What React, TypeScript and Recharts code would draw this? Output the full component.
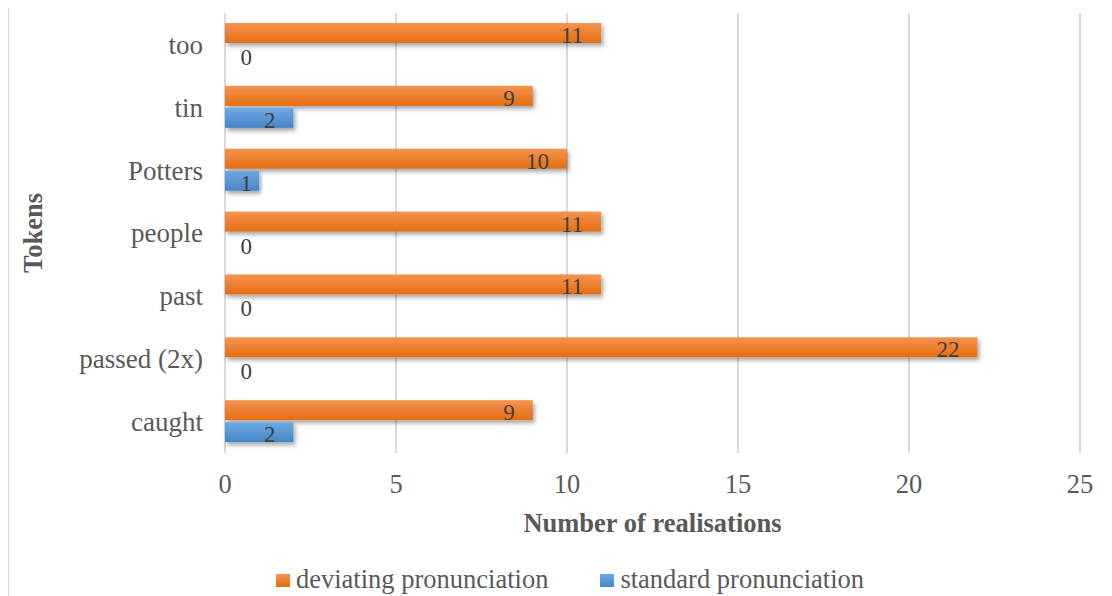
import React from 'react';
import {
  BarChart,
  Bar,
  XAxis,
  YAxis,
  CartesianGrid,
  LabelList,
} from 'recharts';

const tokens = ['too', 'tin', 'Potters', 'people', 'past', 'passed (2x)', 'caught'];
const deviating = [11, 9, 10, 11, 11, 22, 9];
const standard = [0, 2, 1, 0, 0, 0, 2];
const xTicks = [0, 5, 10, 15, 20, 25];

const seriesNames = {
  deviating: 'deviating pronunciation',
  standard: 'standard pronunciation',
};

const chartData = tokens.map((name, i) => ({
  name,
  deviating: deviating[i],
  standard: standard[i],
}));

const FONT = '"Liberation Serif", "Times New Roman", serif';
const TEXT_GRAY = '#595959';
const LABEL_GRAY = '#404040';
const GRID = '#d9d9d9';

const renderYTick = (props: any) => {
  const { y, payload } = props;
  return (
    <text x={194} y={y} dy="0.35em" textAnchor="end" fontFamily={FONT} fontSize={27} fill={TEXT_GRAY}>
      {payload.value}
    </text>
  );
};

const renderXTick = (props: any) => {
  const { x, y, payload } = props;
  return (
    <text x={x} y={y + 40} textAnchor="middle" fontFamily={FONT} fontSize={26.5} fill={TEXT_GRAY}>
      {payload.value}
    </text>
  );
};

const renderBarLabel = (props: any) => {
  const { x, y, width, height, value } = props;
  const endX = Math.max(x + width - 18, x + 27);
  return (
    <text
      x={endX}
      y={y + height / 2 + 2}
      dy="0.35em"
      textAnchor="end"
      fontFamily={FONT}
      fontSize={23}
      fill={LABEL_GRAY}
    >
      {value}
    </text>
  );
};

const barShape = (gradId: string) => (props: any) => {
  const { x, y, width, height } = props;
  if (!width || width <= 0) return <g />;
  return <rect x={x} y={y} width={width} height={height} fill={`url(#${gradId})`} filter="url(#barShadow)" />;
};

const legendItems = [
  { label: seriesNames.deviating, grad: 'linear-gradient(#f5944f, #e46c0a)' },
  { label: seriesNames.standard, grad: 'linear-gradient(#6eaae2, #4585c8)' },
];

export default function App() {
  return (
    <div
      style={{
        position: 'relative',
        width: 1102,
        height: 592,
        marginTop: -2,
        border: `1px solid ${GRID}`,
        background: '#fff',
      }}
    >
      <BarChart
        width={1102}
        height={592}
        data={chartData}
        layout="vertical"
        margin={{ top: 6, right: 31, bottom: 116, left: 0 }}
        barSize={20}
        barGap={2}
      >
        <defs>
          <linearGradient id="gradOrange" x1="0" y1="0" x2="0" y2="1">
            <stop offset="0%" stopColor="#f5944f" />
            <stop offset="100%" stopColor="#e56d12" />
          </linearGradient>
          <linearGradient id="gradBlue" x1="0" y1="0" x2="0" y2="1">
            <stop offset="0%" stopColor="#6eaae2" />
            <stop offset="100%" stopColor="#4585c8" />
          </linearGradient>
          <filter id="barShadow" x="-5%" y="-30%" width="115%" height="180%">
            <feDropShadow dx="2" dy="3" stdDeviation="2" floodColor="#000" floodOpacity="0.35" />
          </filter>
        </defs>
        <CartesianGrid horizontal={false} stroke={GRID} strokeWidth={2} />
        <XAxis
          type="number"
          domain={[0, 25]}
          ticks={xTicks}
          axisLine={false}
          tickLine={false}
          tickSize={0}
          tickMargin={0}
          tick={renderXTick}
          height={30}
          label={{
            content: (p: any) => {
              const vb = p.viewBox;
              return (
                <text
                  x={vb.x + vb.width / 2}
                  y={vb.y + 79}
                  textAnchor="middle"
                  fontFamily={FONT}
                  fontSize={26.5}
                  fontWeight="bold"
                  fill={TEXT_GRAY}
                >
                  Number of realisations
                </text>
              );
            },
          }}
        />
        <YAxis
          type="category"
          dataKey="name"
          width={216}
          axisLine={false}
          tickLine={false}
          tick={renderYTick}
          interval={0}
          label={{
            content: (p: any) => {
              const vb = p.viewBox;
              const cx = 24;
              const cy = vb.y + vb.height / 2;
              return (
                <text
                  x={cx}
                  y={cy}
                  dy="0.35em"
                  textAnchor="middle"
                  transform={`rotate(-90, ${cx}, ${cy})`}
                  fontFamily={FONT}
                  fontSize={26.5}
                  fontWeight="bold"
                  fill={TEXT_GRAY}
                >
                  Tokens
                </text>
              );
            },
          }}
        />
        <Bar
          dataKey="deviating"
          name={seriesNames.deviating}
          fill="#ed7d31"
          shape={barShape('gradOrange')}
          isAnimationActive={false}
        >
          <LabelList dataKey="deviating" content={renderBarLabel} />
        </Bar>
        <Bar
          dataKey="standard"
          name={seriesNames.standard}
          fill="#5b9bd5"
          shape={barShape('gradBlue')}
          isAnimationActive={false}
        >
          <LabelList dataKey="standard" content={renderBarLabel} />
        </Bar>
      </BarChart>
      <div
        style={{
          position: 'absolute',
          left: 10,
          top: 557,
          width: 1102,
          display: 'flex',
          justifyContent: 'center',
          gap: 52,
          fontFamily: FONT,
          fontSize: 26.5,
          lineHeight: '30px',
          color: TEXT_GRAY,
        }}
      >
        {legendItems.map((item) => (
          <div key={item.label} style={{ display: 'flex', alignItems: 'flex-start' }}>
            <div style={{ width: 14, height: 13, marginTop: 10, marginRight: 6, background: item.grad }} />
            <span>{item.label}</span>
          </div>
        ))}
      </div>
    </div>
  );
}
